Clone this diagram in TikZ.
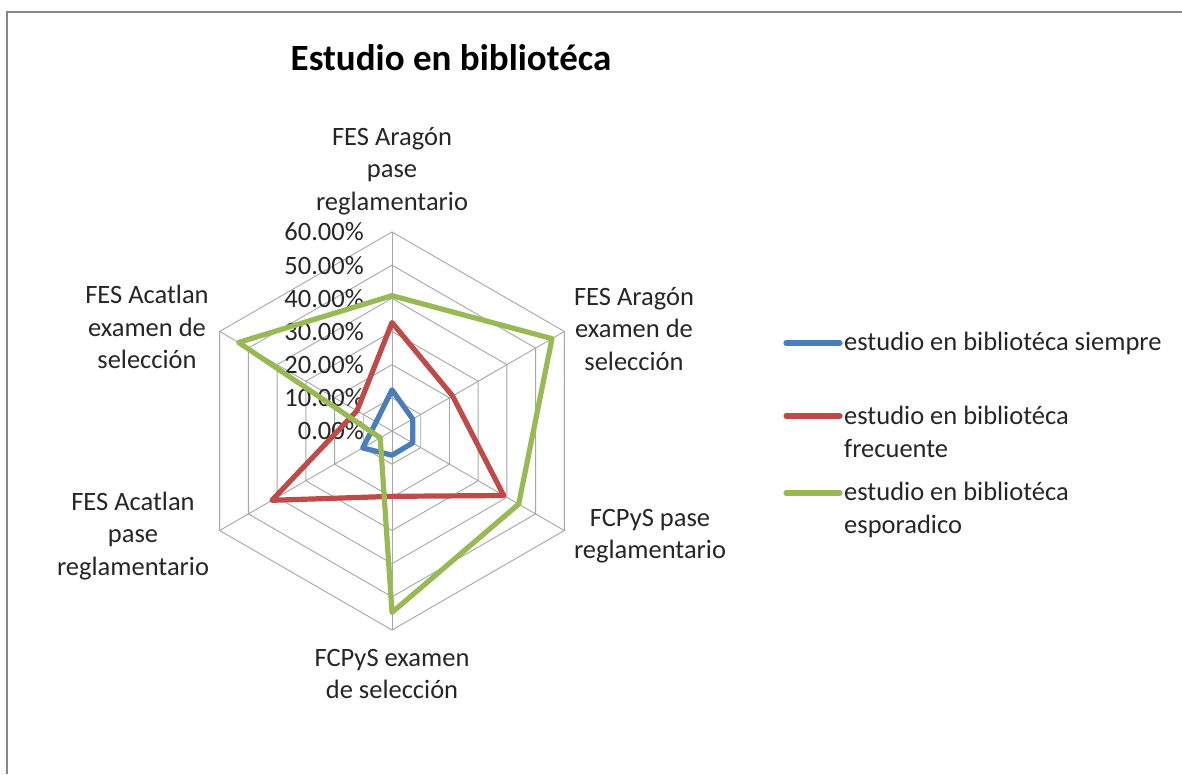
\documentclass[tikz,border=0pt]{standalone}
\usepackage{fontspec}
\setmainfont{Carlito}
\definecolor{ser1}{HTML}{4A7EBB}
\definecolor{ser2}{HTML}{BE4B48}
\definecolor{ser3}{HTML}{98B954}
\definecolor{gridc}{HTML}{A6A6A6}
\definecolor{framec}{HTML}{878787}
\begin{document}
\begin{tikzpicture}[x=1pt,y=1pt,
  lbl/.style={font=\fontsize{26.5}{32.5}\selectfont, align=center, inner sep=0pt, text=black!85},
  ticklbl/.style={font=\fontsize{26.5}{32}\selectfont, anchor=east, inner sep=0pt, text=black!85},
  leglbl/.style={font=\fontsize{26.5}{33}\selectfont, align=left, anchor=west, inner sep=0pt, text=black!85},
  series/.style={line width=5.2pt, line join=round, line cap=round},
  gridline/.style={gridc, line width=0.9pt}]
\useasboundingbox (0,0) rectangle (1182,774);
\fill[white] (0,0) rectangle (1182,774);
\draw[framec, line width=2pt] (7,0) -- (7,762) -- (1183,762);
\node[font=\fontsize{37}{44}\selectfont\bfseries, inner sep=0pt] (title) at (451,716) {Estudio en bibliotéca};
\def\u{3.3167}
\begin{scope}[shift={(392,343)}]
  \coordinate (c) at (0,0);
  \foreach \k in {1,...,6}
    \draw[gridline] (90:{\k*33.17}) -- (30:{\k*33.17}) -- (-30:{\k*33.17}) -- (-90:{\k*33.17}) -- (-150:{\k*33.17}) -- (150:{\k*33.17}) -- cycle;
  \foreach \a/\n in {90/a1,30/a2,-30/a3,-90/a4,-150/a5,150/a6} {
    \coordinate (\n) at (\a:199);
    \draw[gridline] (c) -- (\n);
  }
  \node[ticklbl] (t0) at (-28,0) {0.00\%};
  \foreach \k in {1,...,6}
    \node[ticklbl] (t\k) at (-28,{\k*33.17}) {\k0.00\%};
  \draw[ser1, series] (90:{12.4*\u}) -- (30:{7.2*\u}) -- (-30:{7.2*\u}) -- (-90:{7.3*\u}) -- (-150:{10.2*\u}) -- (150:{5.5*\u}) -- cycle;
  \draw[ser2, series] (90:{32.7*\u}) -- (30:{21.1*\u}) -- (-30:{38.9*\u}) -- (-90:{19.7*\u}) -- (-150:{41.8*\u}) -- (150:{12.2*\u}) -- cycle;
  \draw[ser3, series] (90:{40.8*\u}) -- (30:{55.7*\u}) -- (-30:{44.1*\u}) -- (-90:{54.7*\u}) -- (-150:{4.1*\u}) -- (150:{53.4*\u}) -- cycle;
\end{scope}
\node[lbl] (l1) at (392,603) {FES Aragón\\pase\\reglamentario};
\node[lbl] (l2) at (634,445) {FES Aragón\\examen de\\selección};
\node[lbl] (l3) at (650,238) {FCPyS pase\\reglamentario};
\node[lbl] (l4) at (392,100) {FCPyS examen\\de selección};
\node[lbl] (l5) at (133,238) {FES Acatlan\\pase\\reglamentario};
\node[lbl] (l6) at (147,447) {FES Acatlan\\examen de\\selección};
% legend
\coordinate (k1a) at (786,431); \coordinate (k1b) at (840,431);
\coordinate (k2a) at (786,358); \coordinate (k2b) at (840,358);
\coordinate (k3a) at (786,281); \coordinate (k3b) at (840,281);
\draw[ser1, series] (k1a) -- (k1b);
\draw[ser2, series] (k2a) -- (k2b);
\draw[ser3, series] (k3a) -- (k3b);
\node[leglbl] (g1) at (844,431) {estudio en bibliotéca siempre};
\node[leglbl] (g2) at (844,342) {estudio en bibliotéca\\frecuente};
\node[leglbl] (g3) at (844,264) {estudio en bibliotéca\\esporadico};
\end{tikzpicture}
\end{document}
